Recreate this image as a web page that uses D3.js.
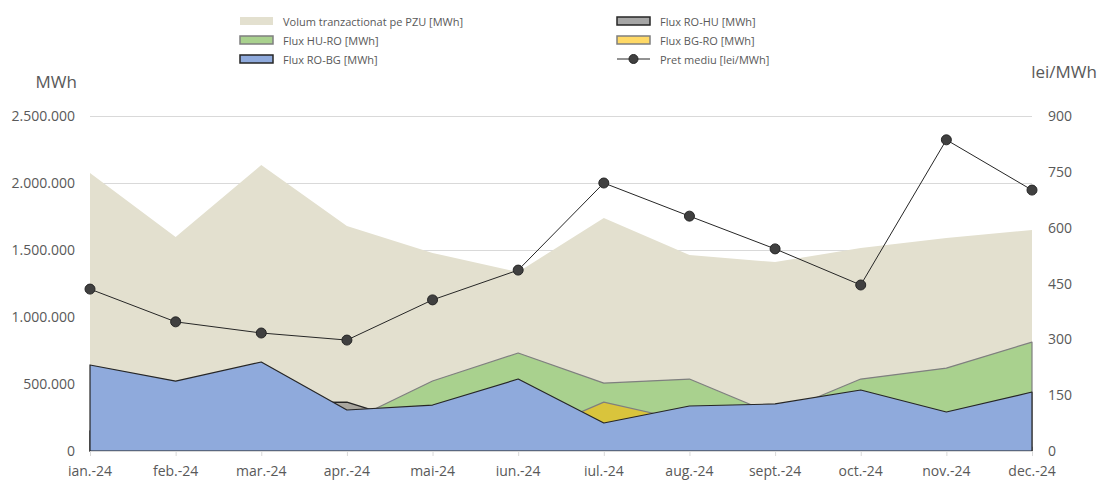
<!DOCTYPE html>
<html>
<head>
<meta charset="utf-8">
<title>PZU 2024</title>
<script src="https://d3js.org/d3.v7.min.js"></script>
<style>
    body { margin: 0; background: #fff; }
    text { font-family: "Open Sans", "Noto Sans", sans-serif; fill: #595959; }
</style>
</head>
<body>
<div id="chart"></div>
<script>
    const months = ['ian.-24', 'feb.-24', 'mar.-24', 'apr.-24', 'mai-24', 'iun.-24',
        'iul.-24', 'aug.-24', 'sept.-24', 'oct.-24', 'nov.-24', 'dec.-24']
    const volum = [2075000, 1597000, 2134000, 1679000, 1478000, 1336000,
        1739000, 1463000, 1410000, 1515000, 1590000, 1649000]
    const fluxRoHu = [150000, 200000, 362000, 365000, 165000, 100000,
        50000, 80000, 150000, 100000, 60000, 30000]
    const fluxHuRo = [20000, 30000, 60000, 213000, 522000, 731000,
        507000, 537000, 270000, 537000, 619000, 813000]
    const fluxBgRo = [0, 0, 0, 0, 40000, 90000,
        365000, 220000, 60000, 20000, 10000, 0]
    const fluxRoBg = [642000, 522000, 664000, 306000, 343000, 537000,
        209000, 336000, 351000, 455000, 291000, 440000]
    const pretMediu = [435, 347, 317, 298, 406, 486, 720, 631, 543, 446, 836, 701]

    const leftTicks = [0, 500000, 1000000, 1500000, 2000000, 2500000]
    const rightTicks = [0, 150, 300, 450, 600, 750, 900]

    const W = 1099, H = 480
    const plot = { left: 90, right: 1032, top: 116, bottom: 451 }

    const svg = d3.select('#chart').append('svg')
        .attr('width', W).attr('height', H)

    const x = d3.scalePoint().domain(months).range([plot.left, plot.right])
    const y = d3.scaleLinear().domain([0, 2500000]).range([plot.bottom, plot.top])
    const y2 = d3.scaleLinear().domain([0, 900]).range([plot.bottom, plot.top])

    const fmt = v => d3.format(',')(v).replace(/,/g, '.')

    // gridlines
    svg.append('g').selectAll('line').data(leftTicks.slice(1)).join('line')
        .attr('x1', plot.left).attr('x2', plot.right)
        .attr('y1', d => y(d) + 0.5).attr('y2', d => y(d) + 0.5)
        .attr('stroke', '#d9d9d9').attr('stroke-width', 1)

    // areas, drawn one over the other (not stacked)
    const series = [
        { name: 'Volum tranzactionat pe PZU [MWh]', values: volum, fill: '#e3e0cf', stroke: 'none', legendFill: '#e3e0cf' },
        { name: 'Flux RO-HU [MWh]', values: fluxRoHu, fill: '#a9a69e', stroke: '#262626', legendFill: '#a6a6a6' },
        { name: 'Flux HU-RO [MWh]', values: fluxHuRo, fill: '#a9d18e', stroke: '#7f7f7f', legendFill: '#a9d18e' },
        { name: 'Flux BG-RO [MWh]', values: fluxBgRo, fill: '#d9c43c', stroke: '#7f7f7f', legendFill: '#ffd966' },
        { name: 'Flux RO-BG [MWh]', values: fluxRoBg, fill: '#8faadc', stroke: '#262626', legendFill: '#8faadc' }
    ]

    const area = d3.area()
        .x((d, i) => x(months[i]))
        .y0(plot.bottom)
        .y1(d => y(d))

    series.forEach(s => {
        svg.append('path')
            .datum(s.values)
            .attr('d', area)
            .attr('fill', s.fill)
            .attr('stroke', s.stroke)
            .attr('stroke-width', 1.2)
            .attr('stroke-linejoin', 'round')
    })

    // x axis
    const xAxis = svg.append('g')
    xAxis.append('line')
        .attr('x1', plot.left).attr('x2', plot.right)
        .attr('y1', plot.bottom + 0.5).attr('y2', plot.bottom + 0.5)
        .attr('stroke', '#d9d9d9')
    xAxis.selectAll('line.tick').data(months).join('line')
        .attr('class', 'tick')
        .attr('x1', d => x(d) + 0.5).attr('x2', d => x(d) + 0.5)
        .attr('y1', plot.bottom).attr('y2', plot.bottom + 5)
        .attr('stroke', '#d9d9d9')
    xAxis.selectAll('text').data(months).join('text')
        .attr('x', d => x(d)).attr('y', 476)
        .attr('text-anchor', 'middle')
        .attr('font-size', 14)
        .text(d => d)

    // left axis
    svg.append('g').selectAll('text').data(leftTicks).join('text')
        .attr('x', 75).attr('y', d => y(d) + 5)
        .attr('text-anchor', 'end')
        .attr('font-size', 14)
        .text(d => fmt(d))
    svg.append('text').attr('x', 77).attr('y', 88)
        .attr('text-anchor', 'end').attr('font-size', 17).text('MWh')

    // right axis
    svg.append('g').selectAll('text').data(rightTicks).join('text')
        .attr('x', 1048).attr('y', d => y2(d) + 5)
        .attr('font-size', 14)
        .text(d => d)
    svg.append('text').attr('x', 1097).attr('y', 78)
        .attr('text-anchor', 'end').attr('font-size', 17).text('lei/MWh')

    // price line
    const line = d3.line().x((d, i) => x(months[i])).y(d => y2(d))
    svg.append('path').datum(pretMediu)
        .attr('d', line).attr('fill', 'none')
        .attr('stroke', '#262626').attr('stroke-width', 1)
    svg.append('g').selectAll('circle').data(pretMediu).join('circle')
        .attr('cx', (d, i) => x(months[i])).attr('cy', d => y2(d))
        .attr('r', 5)
        .attr('fill', '#404040').attr('stroke', '#262626').attr('stroke-width', 1)

    // legend
    const legendItems = [
        { s: series[0], col: 0, row: 0 },
        { s: series[1], col: 1, row: 0 },
        { s: series[2], col: 0, row: 1 },
        { s: series[3], col: 1, row: 1 },
        { s: series[4], col: 0, row: 2 },
        { s: { name: 'Pret mediu [lei/MWh]', line: true }, col: 1, row: 2 }
    ]
    const legend = svg.append('g')
    legendItems.forEach(item => {
        const lx = item.col === 0 ? 240 : 617
        const ly = 21 + item.row * 19
        const g = legend.append('g')
        if (item.s.line) {
            g.append('line').attr('x1', lx).attr('x2', lx + 33)
                .attr('y1', ly).attr('y2', ly).attr('stroke', '#262626')
            g.append('circle').attr('cx', lx + 16.5).attr('cy', ly).attr('r', 4.5)
                .attr('fill', '#404040').attr('stroke', '#262626')
        } else {
            g.append('rect').attr('x', lx).attr('y', ly - 4).attr('width', 33).attr('height', 8)
                .attr('fill', item.s.legendFill)
                .attr('stroke', item.s.stroke === 'none' ? 'none' : item.s.stroke)
                .attr('stroke-width', 1.5)
        }
        g.append('text').attr('x', lx + 43).attr('y', ly + 4.5)
            .attr('font-size', 11).text(item.s.name)
    })
</script>
</body>
</html>
